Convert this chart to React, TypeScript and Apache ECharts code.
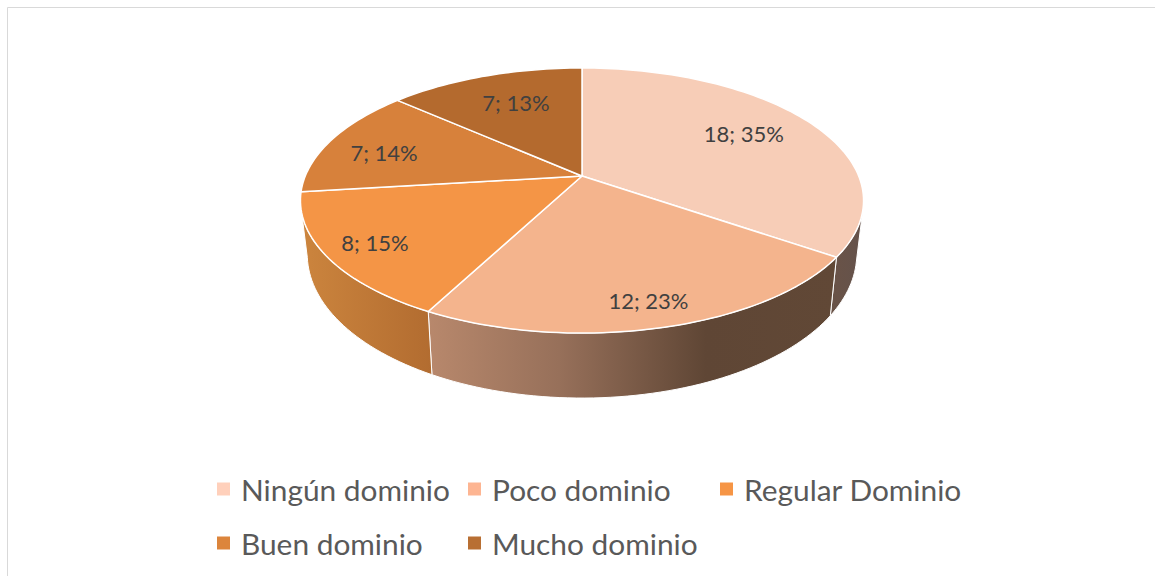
import React, { useEffect, useRef } from "react";
import * as echarts from "echarts";

const categories = ["Ningún dominio", "Poco dominio", "Regular Dominio", "Buen dominio", "Mucho dominio"];
const counts = [18, 12, 8, 7, 7];
const percentLabels = [35, 23, 15, 14, 13];
const topColors = ["#F7CDB7", "#F4B48D", "#F49546", "#D7813B", "#B46A2E"];
const legendColors = ["#FFD0BB", "#FDB592", "#F69545", "#DC853C", "#B86F33"];

// projection of the tilted disc (perspective homography)
const CX = 582, TOP_Y = 176, K = 0.185, A_TOP = 276.7, B_TOP = 128;
const A_BOT = 270, BOT_Y = 227.5, B_BOT = 139;
const WALL_FROM = 105, WALL_TO = 258;
const labelRadius = [0.714, 0.85, 0.83, 0.763, 0.7];
const labelAngleShift = [-1.6, 0, 0, -3.2, 1.8];
const legendSlots = [
  { left: 217, top: 474 }, { left: 468, top: 474 }, { left: 720, top: 474 },
  { left: 217, top: 528 }, { left: 468, top: 528 },
];
const wallFills: any[] = [
  [[0, "#6A5347"], [1, "#64524B"]],
  [[0, "#B8886C"], [0.32, "#97705A"], [0.68, "#5F4635"], [1, "#614836"]],
  [[0, "#CC853E"], [1, "#B26C30"]],
];

const total = counts.reduce((a, b) => a + b, 0);
const cum: number[] = [0];
counts.forEach((c, i) => cum.push(cum[i] + (c / total) * 360));

function project(deg: number, r: number, top: boolean): number[] {
  const t = (deg * Math.PI) / 180;
  const X = Math.sin(t) * r, Y = -Math.cos(t) * r;
  const d = 1 - K * Y;
  return top
    ? [CX + (A_TOP * X) / d, TOP_Y + (B_TOP * Y) / d]
    : [CX + (A_BOT * X) / d, BOT_Y + (B_BOT * Y) / d];
}
function arc(a: number, b: number, top: boolean): number[][] {
  const n = Math.max(2, Math.ceil(Math.abs(b - a) / 1.5));
  const out: number[][] = [];
  for (let i = 0; i <= n; i++) out.push(project(a + ((b - a) * i) / n, 1, top));
  return out;
}

export default function App() {
  const ref = useRef<HTMLDivElement>(null);
  useEffect(() => {
    document.body.style.margin = "0";
    const chart = echarts.init(ref.current!, undefined, { renderer: "svg" });
    const font = "Lato, Carlito, Calibri, sans-serif";
    const sliceSeries = categories.map((name, i) => ({
      type: "custom",
      name,
      coordinateSystem: "none",
      z: 3,
      silent: true,
      itemStyle: { color: legendColors[i] },
      data: [[counts[i]]],
      renderItem: () => ({
        type: "group",
        children: [
          {
            type: "polygon",
            shape: { points: [[CX, TOP_Y], ...arc(cum[i], cum[i + 1], true)] },
            style: { fill: topColors[i], stroke: "#FFFFFF", lineWidth: 1.5, lineJoin: "round" },
          },
        ],
      }),
    }));
    const wallSeries = {
      type: "custom",
      name: "paredes",
      coordinateSystem: "none",
      z: 2,
      silent: true,
      data: [[0], [1], [2]],
      renderItem: (params: any) => {
        const i = params.dataIndex;
        const a = Math.max(cum[i], WALL_FROM), b = Math.min(cum[i + 1], WALL_TO);
        return {
          type: "polygon",
          shape: { points: [...arc(a, b, true), ...arc(b, a, false)] },
          style: {
            fill: new echarts.graphic.LinearGradient(
              0, 0, 1, 0,
              wallFills[i].map((s: any) => ({ offset: s[0], color: s[1] }))
            ),
            stroke: "#FFFFFF",
            lineWidth: 1,
          },
        };
      },
    };
    const labelSeries = {
      type: "custom",
      name: "etiquetas",
      coordinateSystem: "none",
      z: 4,
      silent: true,
      data: counts.map((c) => [c]),
      renderItem: (params: any) => {
        const i = params.dataIndex;
        const p = project((cum[i] + cum[i + 1]) / 2 + labelAngleShift[i], labelRadius[i], true);
        return {
          type: "text",
          x: p[0],
          y: p[1],
          style: {
            text: `${counts[i]}; ${percentLabels[i]}%`,
            fill: "#404040",
            font: `22px ${font}`,
            align: "center",
            verticalAlign: "middle",
          },
        };
      },
    };
    chart.setOption({
      animation: false,
      backgroundColor: "#FFFFFF",
      graphic: [
        {
          type: "rect",
          z: 0,
          shape: { x: 7.5, y: 7.5, width: 1200, height: 600 },
          style: { fill: "none", stroke: "#D9D9D9", lineWidth: 1 },
        },
      ],
      legend: categories.map((name, i) => ({
        data: [name],
        left: legendSlots[i].left,
        top: legendSlots[i].top,
        icon: "rect",
        itemWidth: 13,
        itemHeight: 13,
        itemGap: 0,
        padding: 0,
        selectedMode: false,
        textStyle: { fontFamily: font, fontSize: 29.85, color: "#595959", padding: [0, 0, 2, 6] },
      })),
      series: [wallSeries, ...sliceSeries, labelSeries],
    });
    return () => chart.dispose();
  }, []);
  return <div ref={ref} style={{ width: 1155, height: 576 }} />;
}
